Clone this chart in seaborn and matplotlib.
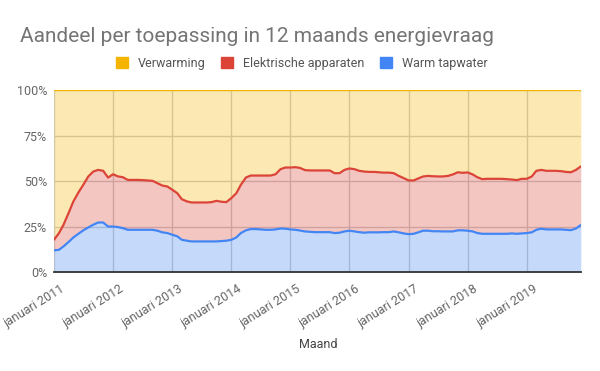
import matplotlib
matplotlib.use("Agg")
import matplotlib.pyplot as plt
import matplotlib.transforms as mtransforms
from matplotlib.patches import Patch
import numpy as np
import pandas as pd
import seaborn as sns

# maandelijkse aandelen (%), jan 2011 t/m dec 2019
maanden = pd.date_range("2011-01-01", periods=108, freq="MS")

warm_tapwater = [
    11.9, 12.2, 14.1, 16.5, 19.0, 21.0, 22.9, 24.5, 26.0, 27.2, 27.2, 25.0,
    25.0, 24.7, 24.1, 23.2, 23.2, 23.2, 23.2, 23.2, 23.2, 22.7, 21.8, 21.4,
    20.5, 19.6, 17.7, 17.2, 16.8, 16.8, 16.8, 16.8, 16.8, 16.8, 17.0, 17.2,
    17.7, 19.0, 21.4, 22.9, 23.6, 23.6, 23.4, 23.2, 23.2, 23.4, 23.9, 23.8,
    23.4, 23.2, 22.8, 22.3, 22.1, 21.9, 21.9, 21.9, 21.9, 21.4, 21.6, 22.3,
    22.7, 22.3, 21.9, 21.6, 21.8, 21.8, 21.8, 21.9, 21.9, 22.3, 21.8, 21.2,
    20.8, 21.0, 21.8, 22.7, 22.7, 22.4, 22.4, 22.3, 22.3, 22.3, 22.9, 22.9,
    22.7, 22.3, 21.4, 21.0, 21.0, 21.0, 21.0, 21.0, 21.0, 21.2, 21.0, 21.2,
    21.4, 21.8, 23.2, 23.8, 23.4, 23.4, 23.4, 23.4, 23.2, 23.0, 23.9, 25.8,
]

elektrische_apparaten = [
    5.8, 9.2, 11.9, 15.9, 19.8, 22.7, 25.0, 28.0, 29.2, 28.9, 28.4, 26.9,
    28.7, 27.8, 28.0, 27.4, 27.4, 27.4, 27.3, 27.1, 26.9, 26.1, 25.7, 25.6,
    24.7, 23.7, 22.3, 21.6, 21.4, 21.4, 21.4, 21.4, 21.6, 22.3, 21.6, 21.2,
    22.9, 24.3, 26.5, 29.0, 29.4, 29.4, 29.6, 29.8, 29.8, 30.3, 32.6, 33.6,
    34.0, 34.4, 34.4, 33.7, 33.7, 33.9, 33.9, 33.9, 33.9, 32.9, 32.7, 33.8,
    34.2, 34.2, 33.7, 33.6, 33.2, 33.2, 33.0, 32.7, 32.7, 32.0, 31.0, 30.4,
    29.5, 29.3, 29.6, 29.8, 30.1, 30.2, 30.1, 30.2, 30.5, 31.3, 31.9, 31.6,
    32.0, 31.3, 30.7, 30.0, 30.2, 30.2, 30.2, 30.2, 30.0, 29.6, 29.5, 30.0,
    29.8, 30.7, 32.4, 32.3, 32.2, 32.2, 32.2, 32.0, 31.8, 31.8, 32.2, 32.2,
]

verwarming = [
    82.3, 78.6, 74.0, 67.6, 61.2, 56.3, 52.1, 47.5, 44.8, 43.9, 44.4, 48.1,
    46.3, 47.5, 47.9, 49.4, 49.4, 49.4, 49.5, 49.7, 49.9, 51.2, 52.5, 53.0,
    54.8, 56.7, 60.0, 61.2, 61.8, 61.8, 61.8, 61.8, 61.6, 60.9, 61.4, 61.6,
    59.4, 56.7, 52.1, 48.1, 47.0, 47.0, 47.0, 47.0, 47.0, 46.3, 43.5, 42.6,
    42.6, 42.4, 42.8, 44.0, 44.2, 44.2, 44.2, 44.2, 44.2, 45.7, 45.7, 43.9,
    43.1, 43.5, 44.4, 44.8, 45.0, 45.0, 45.2, 45.4, 45.4, 45.7, 47.2, 48.4,
    49.7, 49.7, 48.6, 47.5, 47.2, 47.4, 47.5, 47.5, 47.2, 46.4, 45.2, 45.5,
    45.3, 46.4, 47.9, 49.0, 48.8, 48.8, 48.8, 48.8, 49.0, 49.2, 49.5, 48.8,
    48.8, 47.5, 44.4, 43.9, 44.4, 44.4, 44.4, 44.6, 45.0, 45.2, 43.9, 42.0,
]

jaren = [2011, 2012, 2013, 2014, 2015, 2016, 2017, 2018, 2019]

series = ["Verwarming", "Elektrische apparaten", "Warm tapwater"]
kleuren = {"Verwarming": "#f4b400", "Elektrische apparaten": "#db4437", "Warm tapwater": "#4285f4"}

sns.set_theme(style="white")
plt.rcParams["font.family"] = ["Roboto", "DejaVu Sans"]

fig = plt.figure(figsize=(6, 3.71), dpi=100)
ax = fig.add_axes([0.09, 0.2668, 0.878, 0.4906])

# gestapeld van onder naar boven
onder = np.zeros(len(maanden))
for naam, waarden in [("Warm tapwater", warm_tapwater),
                      ("Elektrische apparaten", elektrische_apparaten),
                      ("Verwarming", verwarming)]:
    boven = onder + np.array(waarden)
    ax.fill_between(maanden, onder, boven, color=kleuren[naam], alpha=0.3, lw=0, zorder=2)
    sns.lineplot(x=maanden, y=boven, color=kleuren[naam], lw=1.6, ax=ax, zorder=3)
    onder = boven

ax.set_ylim(0, 100)
ax.set_xlim(maanden[0], maanden[-1])
ax.tick_params(axis="both", length=0, pad=5)
ax.set_yticks([0, 25, 50, 75, 100])
ax.set_yticklabels(["0%", "25%", "50%", "75%", "100%"], color="#666666", fontsize=9)
ticks = [pd.Timestamp(f"{j}-01-01") for j in jaren]
ax.set_xticks(ticks)
ax.set_xticklabels([f"januari {j}" for j in jaren], rotation=32, ha="right",
                   rotation_mode="anchor", color="#666666", fontsize=9)
# labels iets naar rechts/onder schuiven zoals in het origineel
verschuiving = mtransforms.ScaledTranslation(6 / 100, -3 / 100, fig.dpi_scale_trans)
for lbl in ax.get_xticklabels():
    lbl.set_transform(lbl.get_transform() + verschuiving)
ax.grid(True, color="#cccccc", lw=1, zorder=0)
ax.set_axisbelow(True)
for s in ["top", "right", "left"]:
    ax.spines[s].set_visible(False)
ax.spines["bottom"].set_color("#333333")
ax.spines["bottom"].set_linewidth(1.3)
ax.spines["bottom"].set_zorder(4)

ax.set_xlabel("")
ax.set_ylabel("")
fig.text(318 / 600, 1 - 345 / 371, "Maand", color="#444444", fontsize=9,
         ha="center", va="center")

fig.text(20 / 600, 1 - 37 / 371, "Aandeel per toepassing in 12 maands energievraag",
         fontsize=15, color="#757575", va="center", ha="left")

handles = [Patch(facecolor=kleuren[n], edgecolor=kleuren[n]) for n in series]
fig.legend(handles, series, loc="center", bbox_to_anchor=(0.503, 1 - 63 / 371), ncol=3,
           frameon=False, fontsize=9, handlelength=1.0, handleheight=1.0,
           handletextpad=0.8, columnspacing=1.2, labelcolor="#555555")

fig.savefig("out.png", dpi=100)
